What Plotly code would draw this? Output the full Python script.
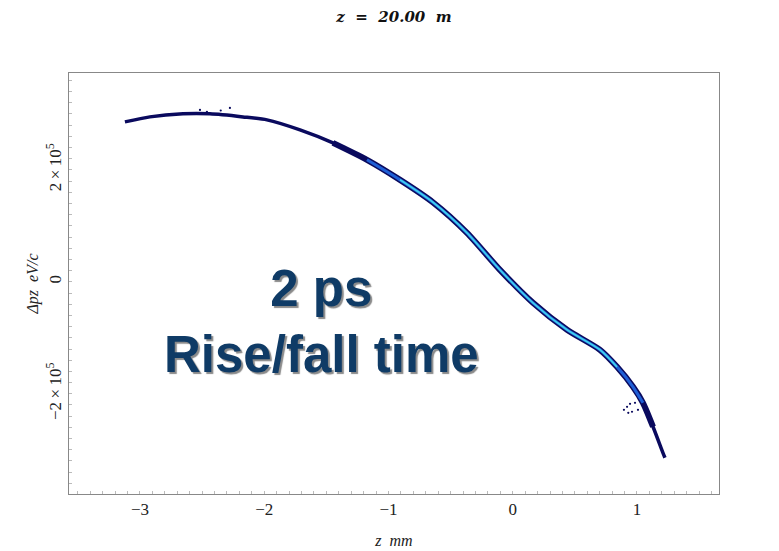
import plotly.graph_objects as go

# Beam centreline (z in mm, delta pz in eV/c)
z_mm = [-3.121, -2.920, -2.654, -2.437, -2.171, -1.978, -1.712, -1.447, -1.173,
        -0.907, -0.642, -0.368, -0.103, 0.163, 0.437, 0.702, 0.839, 0.968,
        1.048, 1.129, 1.209, 1.225]
dpz = [2.857e5, 2.946e5, 3.000e5, 3.000e5, 2.946e5, 2.893e5, 2.714e5, 2.482e5,
       2.179e5, 1.821e5, 1.420e5, 0.875e5, 0.214e5, -0.375e5, -0.857e5,
       -1.214e5, -1.518e5, -1.875e5, -2.161e5, -2.589e5, -3.054e5, -3.143e5]

# Stray particles
stray_z = [0.920, 0.960, 1.008, 0.944, 0.895, 0.984, 0.930, -2.517, -2.461, -2.276, -2.350]
stray_p = [-2.232e5, -2.321e5, -2.286e5, -2.179e5, -2.286e5, -2.161e5, -2.340e5,
           3.071e5, 3.036e5, 3.107e5, 3.060e5]

x_ticks = [-3, -2, -1, 0, 1]
x_labels = ["\u22123", "\u22122", "\u22121", "0", "1"]
y_ticks = [-2e5, 0, 2e5]
y_labels = ["\u22122\u2009\u00d7\u200910<sup>5</sup>", "0", "2\u2009\u00d7\u200910<sup>5</sup>"]

NAVY = "#0a0a5e"
BLUE = "#1f5fd6"
CYAN = "#3fd0ee"

fig = go.Figure()
fig.add_trace(go.Scatter(x=z_mm, y=dpz, mode="lines",
                         line=dict(color=NAVY, width=3.5, shape="spline", smoothing=0.7),
                         hoverinfo="skip"))
fig.add_trace(go.Scatter(x=z_mm[7:20], y=dpz[7:20], mode="lines",
                         line=dict(color=NAVY, width=6, shape="spline", smoothing=0.7),
                         hoverinfo="skip"))
fig.add_trace(go.Scatter(x=z_mm[8:19], y=dpz[8:19], mode="lines",
                         line=dict(color=BLUE, width=3, shape="spline", smoothing=0.7),
                         hoverinfo="skip"))
fig.add_trace(go.Scatter(x=z_mm[9:17], y=dpz[9:17], mode="lines",
                         line=dict(color=CYAN, width=1.8, shape="spline", smoothing=0.7),
                         hoverinfo="skip"))
fig.add_trace(go.Scatter(x=stray_z, y=stray_p, mode="markers",
                         marker=dict(color=NAVY, size=2.2),
                         hoverinfo="skip"))

serif = "Liberation Serif"
fig.update_layout(
    width=771, height=543,
    margin=dict(l=61, r=60, t=65, b=57),
    plot_bgcolor="white", paper_bgcolor="white",
    showlegend=False,
    title=dict(text="<b><i>z&nbsp; =&nbsp; 20.00&nbsp; m</i></b>",
               x=0.5006, xanchor="center", y=0.983, yanchor="middle",
               font=dict(family="DejaVu Serif", size=15, color="#111")),
    xaxis=dict(range=[-3.571, 1.66], tickvals=x_ticks, ticktext=x_labels,
               automargin=False,
               showgrid=False, zeroline=False, showline=True, mirror=True,
               linecolor="#888", linewidth=1, ticks="",
               minor=dict(ticks="inside", ticklen=3, tickcolor="#bbb", dtick=0.1),
               tickfont=dict(family=serif, size=17, color="#222"),
               title=dict(text="<i>z  mm</i>", standoff=16,
                          font=dict(family=serif, size=16, color="#222"))),
    yaxis=dict(range=[-3.79e5, 3.73e5], tickvals=y_ticks, ticktext=y_labels,
               tickangle=-90, automargin=False,
               showgrid=False, zeroline=False, showline=True, mirror=True,
               linecolor="#888", linewidth=1, ticks="",
               minor=dict(ticks="inside", ticklen=3, tickcolor="#bbb", dtick=2e4),
               tickfont=dict(family=serif, size=17, color="#222"),
               title=dict(text="<i>\u0394pz  eV/c</i>", standoff=0,
                          font=dict(family=serif, size=16, color="#222"))),
)

fig.add_annotation(x=-1.535, y=-0.70e5, xref="x", yref="y",
                   text="<b>2 ps<br>Rise/fall time</b>", showarrow=False,
                   xanchor="center", yanchor="middle", align="center",
                   font=dict(family="Liberation Sans", size=51, color="#0f3b66",
                             shadow="2px 2px 1px #8a8a8a"))

fig.write_html("out.html")
